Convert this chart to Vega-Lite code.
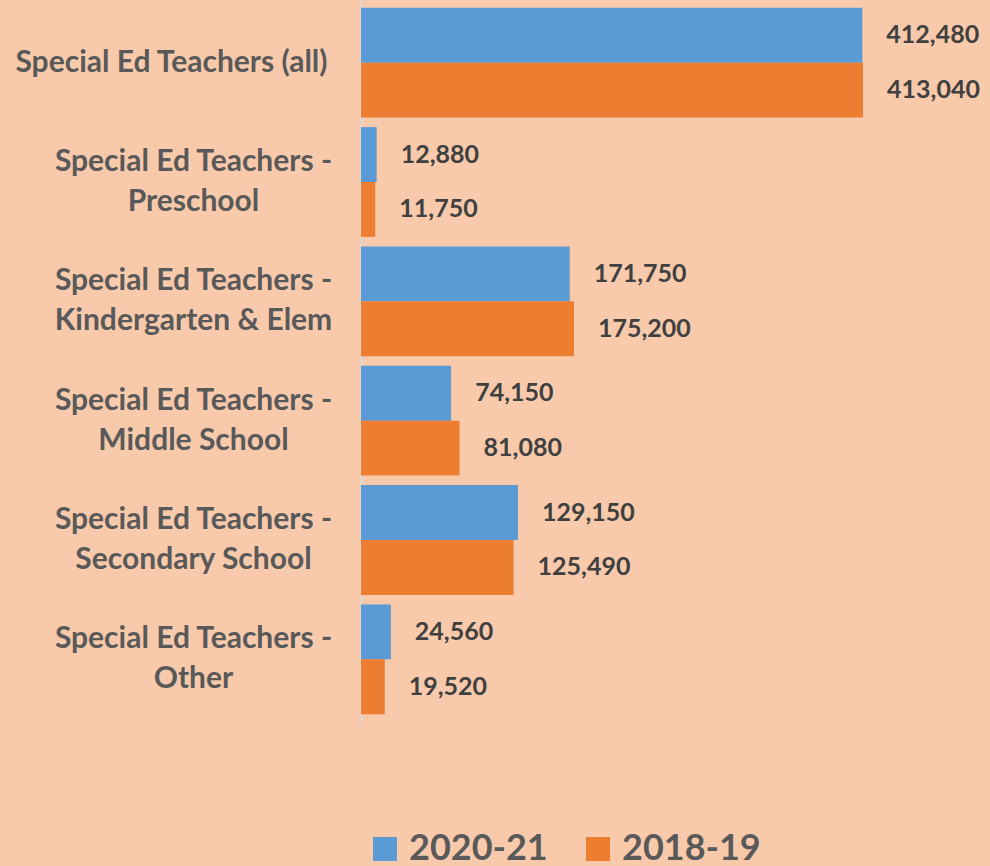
{
  "$schema": "https://vega.github.io/schema/vega-lite/v6.json",
  "autosize": {"type": "none"},
  "width": 629,
  "height": 722,
  "padding": {"left": 361, "top": 0, "right": 0, "bottom": 144},
  "background": "#f8caab",
  "config": {
    "view": {"stroke": null},
    "font": "Lato"
  },
  "data": {
    "values": [
      {"category": "Special Ed Teachers (all)", "year": "2020-21", "value": 412480},
      {"category": "Special Ed Teachers (all)", "year": "2018-19", "value": 413040},
      {"category": "Special Ed Teachers - Preschool", "year": "2020-21", "value": 12880},
      {"category": "Special Ed Teachers - Preschool", "year": "2018-19", "value": 11750},
      {"category": "Special Ed Teachers - Kindergarten & Elem", "year": "2020-21", "value": 171750},
      {"category": "Special Ed Teachers - Kindergarten & Elem", "year": "2018-19", "value": 175200},
      {"category": "Special Ed Teachers - Middle School", "year": "2020-21", "value": 74150},
      {"category": "Special Ed Teachers - Middle School", "year": "2018-19", "value": 81080},
      {"category": "Special Ed Teachers - Secondary School", "year": "2020-21", "value": 129150},
      {"category": "Special Ed Teachers - Secondary School", "year": "2018-19", "value": 125490},
      {"category": "Special Ed Teachers - Other", "year": "2020-21", "value": 24560},
      {"category": "Special Ed Teachers - Other", "year": "2018-19", "value": 19520}
    ]
  },
  "encoding": {
    "y": {
      "field": "category",
      "type": "nominal",
      "sort": null,
      "scale": {"paddingInner": 0.08, "paddingOuter": 0.065},
      "axis": {
        "title": null,
        "ticks": false,
        "domainColor": "#d9d9d9",
        "domainWidth": 2,
        "labelFont": "Lato",
        "labelFontSize": 30,
        "labelFontWeight": "bold",
        "labelColor": "#595959",
        "labelAlign": "center",
        "labelBaseline": "middle",
        "labelLineHeight": 40,
        "labelLimit": 400,
        "labelPadding": {"condition": {"test": "datum.value == 'Special Ed Teachers (all)'", "value": 190}, "value": 168},
        "labelOffset": {"condition": {"test": "datum.value == 'Special Ed Teachers (all)'", "value": 0}, "value": -20},
        "labelExpr": "indexof(datum.label, ' - ') > 0 ? [substring(datum.label, 0, indexof(datum.label, ' - ') + 2), substring(datum.label, indexof(datum.label, ' - ') + 3)] : datum.label"
      }
    },
    "yOffset": {"field": "year", "type": "nominal", "sort": ["2020-21", "2018-19"]},
    "x": {
      "field": "value",
      "type": "quantitative",
      "scale": {"domain": [0, 517500], "nice": false},
      "axis": null
    }
  },
  "layer": [
    {
      "mark": {"type": "bar"},
      "encoding": {
        "color": {
          "field": "year",
          "type": "nominal",
          "sort": ["2020-21", "2018-19"],
          "scale": {"domain": ["2020-21", "2018-19"], "range": ["#5b9bd5", "#ed7d31"]},
          "legend": {
            "title": null,
            "orient": "none",
            "legendX": 6,
            "legendY": 831,
            "direction": "horizontal",
            "symbolType": "square",
            "symbolSize": 576,
            "symbolStrokeWidth": 0,
            "labelFont": "Lato",
            "labelFontSize": 36,
            "labelFontWeight": "bold",
            "labelColor": "#595959",
            "labelOffset": 6,
            "columnPadding": 32,
            "padding": 0
          }
        }
      }
    },
    {
      "mark": {
        "type": "text",
        "align": "left",
        "baseline": "middle",
        "dx": 24,
        "font": "Lato",
        "fontSize": 25,
        "fontWeight": "bold",
        "color": "#404040"
      },
      "encoding": {
        "text": {"field": "value", "type": "quantitative", "format": ",d"}
      }
    }
  ]
}
